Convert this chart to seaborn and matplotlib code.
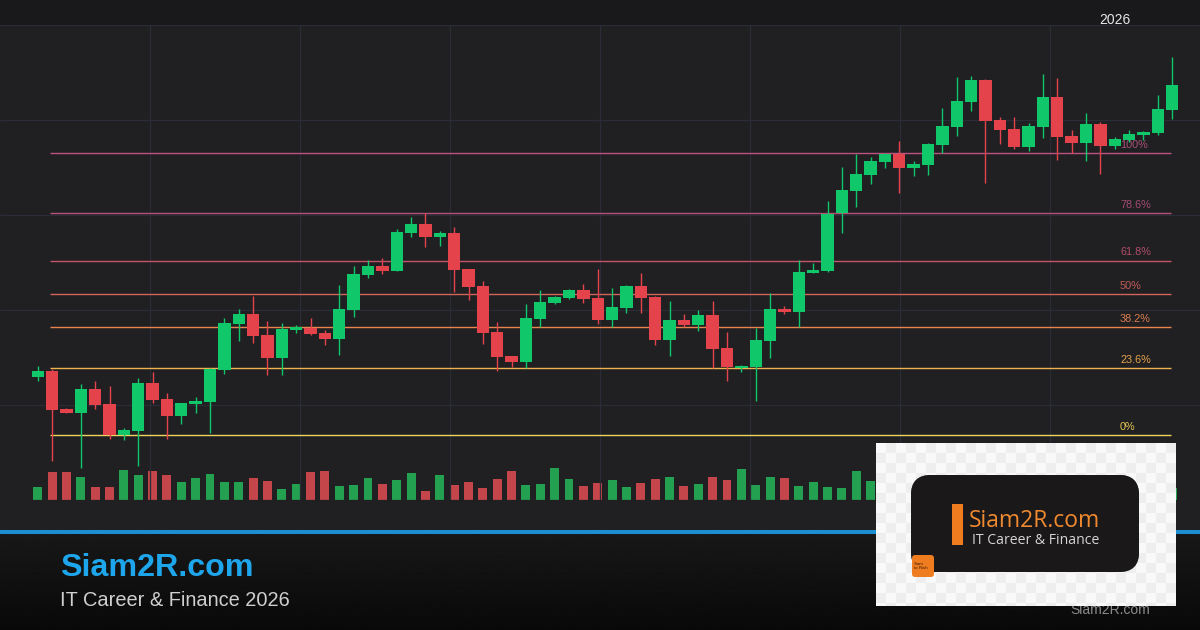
import numpy as np
import pandas as pd
import matplotlib.pyplot as plt
import seaborn as sns
from matplotlib.patches import FancyBboxPatch, Rectangle

# ==================================
# DATA (price units)
# ==================================

opens = [79.2, 82.2, 63.0, 61.2, 73.0, 65.5, 49.9, 52.0, 76.2, 68.2,
         59.7, 65.7, 66.7, 82.7, 105.7, 110.5, 100.0, 88.7, 102.7, 103.7,
         101.0, 98.2, 112.7, 130.2, 134.5, 132.2, 151.2, 155.5, 149.2, 151.2,
         133.0, 124.5, 101.5, 89.5, 86.5, 108.2, 116.0, 118.5, 122.5, 118.5,
         107.5, 113.5, 124.5, 119.0, 97.7, 107.5, 105.0, 110.0, 93.5, 83.7,
         84.2, 97.2, 113.0, 111.5, 131.0, 132.0, 160.8, 172.2, 180.0, 186.5,
         190.7, 183.7, 185.0, 195.2, 204.2, 216.7, 227.5, 207.5, 203.0, 194.0,
         204.2, 218.8, 199.5, 196.2, 205.5, 194.7, 197.5, 200.0, 201.2, 212.7]

highs = [84.5, 82.9, 63.3, 75.5, 77.2, 74.5, 53.7, 78.5, 81.5, 70.8,
         66.0, 69.2, 83.5, 108.5, 113.0, 119.3, 107.0, 106.0, 104.8, 108.7,
         102.5, 125.0, 134.5, 137.5, 138.5, 153.0, 158.8, 160.8, 152.2, 153.8,
         133.0, 127.0, 106.5, 89.5, 115.3, 122.5, 119.7, 123.2, 125.5, 133.0,
         123.5, 125.0, 131.0, 119.5, 117.0, 110.5, 112.5, 117.0, 101.5, 85.2,
         103.5, 121.0, 114.5, 137.5, 136.0, 167.0, 184.0, 190.5, 189.0, 191.0,
         197.2, 187.0, 196.2, 213.5, 229.0, 229.5, 228.0, 208.8, 208.8, 206.0,
         230.5, 228.5, 202.5, 211.0, 206.7, 198.8, 202.5, 202.2, 220.0, 239.0]

lows = [77.2, 37.0, 60.9, 33.7, 63.2, 48.2, 47.7, 34.7, 66.2, 48.2,
        55.5, 61.2, 51.2, 80.3, 97.2, 96.2, 80.2, 80.2, 101.2, 100.0,
        95.0, 90.0, 109.2, 128.5, 130.5, 132.0, 148.8, 144.2, 144.7, 121.7,
        117.7, 95.7, 82.2, 84.2, 83.7, 104.0, 115.7, 118.0, 116.2, 105.5,
        104.0, 111.2, 111.0, 95.2, 89.7, 104.0, 102.0, 83.7, 77.0, 81.7,
        67.2, 88.7, 110.5, 103.8, 131.0, 131.5, 151.0, 164.2, 175.5, 183.5,
        171.2, 179.5, 180.2, 191.2, 199.5, 212.2, 176.2, 195.7, 192.8, 192.2,
        198.7, 187.5, 190.8, 187.2, 180.5, 193.2, 196.7, 197.5, 199.8, 208.0]

closes = [82.0, 62.7, 61.2, 73.0, 65.0, 49.9, 52.5, 76.2, 67.5, 59.7,
          66.0, 67.0, 83.2, 106.0, 110.5, 99.7, 88.7, 103.0, 103.8, 100.7,
          98.2, 113.0, 130.5, 134.5, 132.2, 151.3, 155.5, 149.2, 151.2, 132.5,
          124.2, 101.2, 89.2, 86.5, 108.5, 116.5, 119.0, 122.5, 118.2, 107.5,
          114.0, 124.5, 118.5, 97.7, 107.5, 105.0, 110.0, 93.2, 84.2, 84.7,
          97.5, 113.0, 111.5, 131.5, 132.5, 160.7, 172.5, 180.5, 187.0, 190.5,
          183.7, 185.5, 195.5, 204.5, 217.0, 227.5, 207.2, 202.5, 194.0, 204.5,
          218.8, 199.2, 196.2, 205.5, 194.7, 198.0, 200.5, 201.7, 212.8, 225.0]

volumes = [1300, 2800, 2800, 2300, 1300, 1300, 3000, 2500, 2900, 2500,
           1800, 2200, 2600, 1800, 1800, 2200, 1900, 1100, 1600, 2800,
           2900, 1400, 1500, 2200, 1600, 2000, 2700, 900, 2500, 1500,
           1800, 1200, 2100, 2900, 1500, 1600, 3200, 2100, 1400, 1700,
           2000, 1300, 1700, 2100, 2300, 1400, 1600, 2300, 2000, 3100,
           1500, 2300, 2200, 1400, 1800, 1300, 1200, 2900, 1900, 2100,
           1700, 2400, 1500, 1900, 2600, 1800, 2200, 1400, 2000, 2700,
           1600, 2300, 1500, 1900, 2500, 1300, 1700, 2100, 2400, 1200]

fib_low = 50.0
fib_high = 191.0
fib_ratios = [0.0, 0.236, 0.382, 0.5, 0.618, 0.786, 1.0]
fib_labels = ["0%", "23.6%", "38.2%", "50%", "61.8%", "78.6%", "100%"]
fib_line_colors = ["#f0d35c", "#f0b24e", "#e8844e", "#d2645c", "#c4546c", "#b4507a", "#bc5282"]
fib_text_colors = ["#e6c652", "#e6a24c", "#dc7c4e", "#c45c58", "#b24e68", "#a44c74", "#a85078"]

year_label = "2026"
brand = "Siam2R.com"
tagline = "IT Career & Finance 2026"
logo_tagline = "IT Career & Finance"

df = pd.DataFrame({"open": opens, "high": highs, "low": lows,
                   "close": closes, "volume": volumes})
df["idx"] = np.arange(len(df))
df["dir"] = np.where(df["close"] >= df["open"], "up", "down")

# ==================================
# FIGURE + BACKGROUND
# ==================================

sns.set_theme(style="dark")
plt.rcParams["font.family"] = ["Liberation Sans", "DejaVu Sans"]

W, H = 1200, 630
fig = plt.figure(figsize=(12, 6.3), dpi=100)
fig.patch.set_facecolor("#1c1c1e")

bg = fig.add_axes([0, 0, 1, 1], zorder=0)
bg.set_axis_off()
bg.add_patch(Rectangle((0, 0), W, 25, color="#19191b", lw=0))
bg.add_patch(Rectangle((0, 25), W, 505, color="#202022", lw=0))
grad = np.linspace(0.095, 0.035, 100).reshape(-1, 1)
bg.imshow(grad, extent=(0, W, H, 533), cmap="gray", vmin=0, vmax=1, aspect="auto")
bg.add_patch(Rectangle((0, 529.5), W, 4, color="#1b8fd2", lw=0))
bg.set_xlim(0, W)
bg.set_ylim(H, 0)

bg.text(1115, 20, year_label, color="#e6e6e6", fontsize=10, ha="center", va="center")
bg.text(60, 568, brand, color="#1ea6ec", fontsize=23.2, fontweight="bold", ha="left", va="center")
bg.text(60, 600, tagline, color="#cfcfcf", fontsize=14.4, ha="left", va="center")
bg.text(1070, 610, brand, color="#8c8c8c", fontsize=10, ha="left", va="center")

# chart area: y pixels 25..500
pos = [0, (H - 500) / H, 1, 475 / H]
step = 14.36
x0 = 37.7
xlim = (-x0 / step, (W - x0) / step)

# ==================================
# VOLUME
# ==================================

vol_ax = fig.add_axes(pos, zorder=1)
vol_ax.patch.set_alpha(0)
sns.barplot(data=df, x="idx", y="volume", hue="dir", native_scale=True,
            palette={"up": "#23a050", "down": "#c4464a"}, saturation=1,
            dodge=False, width=0.62, errorbar=None, legend=False,
            linewidth=0, edgecolor="none", ax=vol_ax)
vol_ax.set_xlim(*xlim)
vol_ax.set_ylim(0, 47500)
vol_ax.set_axis_off()

# ==================================
# CANDLES + FIB
# ==================================

ax = fig.add_axes(pos, zorder=2)
ax.patch.set_alpha(0)
ax.set_xlim(*xlim)
ax.set_ylim(17.5, 255)
ax.set_xticks([(px - x0) / step for px in range(150, 1051, 150)])
ax.set_yticks([17.5, 65, 112.5, 160, 207.5, 255])
ax.grid(True, color="#2a2d37", linewidth=0.9)
ax.tick_params(length=0, labelbottom=False, labelleft=False)
for s in ax.spines.values():
    s.set_visible(False)

fib_x0 = (50 - x0) / step
fib_x1 = (1171 - x0) / step
label_x = (1120 - x0) / step
for r, lab, lc, tc in zip(fib_ratios, fib_labels, fib_line_colors, fib_text_colors):
    lvl = fib_low + r * (fib_high - fib_low)
    ax.hlines(lvl, fib_x0, fib_x1, color=lc, linewidth=1.0, zorder=1)
    ax.annotate(lab, (label_x, lvl), xytext=(0, 6), textcoords="offset points",
                color=tc, fontsize=7.8, ha="left", va="center", zorder=1)

cmap = {"up": "#10c86a", "down": "#e5434b"}
colors = [cmap[d] for d in df["dir"]]
ax.vlines(df["idx"], df["low"], df["high"], colors=colors, linewidth=1.0, zorder=3)
body_bottom = np.minimum(df["open"], df["close"])
body_h = np.maximum(np.abs(df["close"] - df["open"]), 0.7)
ax.bar(df["idx"], body_h, bottom=body_bottom, width=0.86, color=colors, zorder=4, linewidth=0)

# ==================================
# LOGO OVERLAY
# ==================================

lg = fig.add_axes([876 / W, (H - 606) / H, 300 / W, 163 / H], zorder=10)
lg.set_axis_off()
yy, xx = np.indices((163, 300))
checker = np.where(((yy // 10) + (xx // 10)) % 2 == 0, 0.975, 0.93)
lg.imshow(checker, extent=(876, 1176, 606, 443), cmap="gray", vmin=0, vmax=1,
          aspect="auto", interpolation="bilinear")

box = FancyBboxPatch((911, 475), 228, 97, boxstyle="round,pad=0,rounding_size=20",
                     facecolor="#1a1818", edgecolor="none")
lg.add_patch(box)
gx = np.linspace(0, 1, 240)
gy = np.linspace(0, 1, 100)
gxx, gyy = np.meshgrid(gx, gy)
t = np.clip(1 - (gxx * 1.1 + gyy * 0.5), 0, 1) ** 1.3
img = np.dstack([0.08 + 0.17 * t, 0.08 + 0.09 * t, 0.08 + 0.05 * t])
im = lg.imshow(img, extent=(911, 1139, 572, 475), aspect="auto")
im.set_clip_path(box)

lg.add_patch(Rectangle((952, 504), 11, 41, color="#f07c20", lw=0))
lg.text(969, 521, "Siam2R.com", color="#f08a30", fontsize=16.5, ha="left", va="center",
        family=["Open Sans", "DejaVu Sans"])
lg.text(972, 541, logo_tagline, color="#d6d6d6", fontsize=10.1, ha="left", va="center",
        family=["Open Sans", "DejaVu Sans"])
lg.add_patch(FancyBboxPatch((912, 555), 22, 22, boxstyle="round,pad=0,rounding_size=3",
                            facecolor="#f07c20", edgecolor="none"))
lg.text(914, 566, "Siam\nto Rich", color="#3a1a08", fontsize=3.2, ha="left", va="center",
        linespacing=1.0)
lg.set_xlim(876, 1176)
lg.set_ylim(606, 443)

fig.savefig("out.png", dpi=100, facecolor=fig.get_facecolor())
